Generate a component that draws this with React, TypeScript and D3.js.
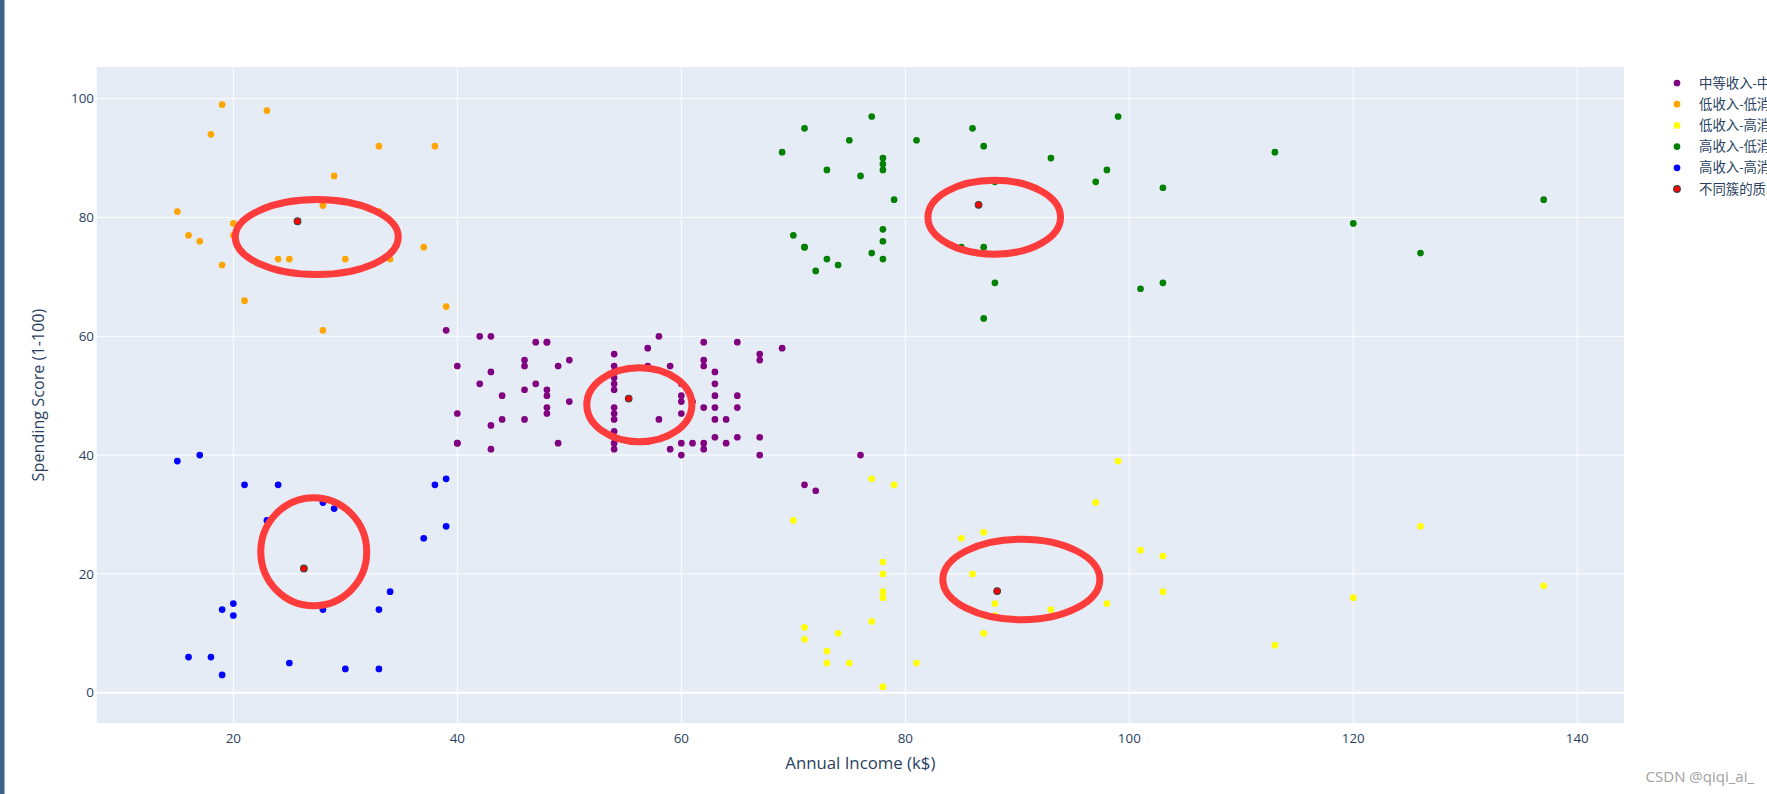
import React from "react";
import * as d3 from "d3";

// ---- data (Annual Income k$, Spending Score) per cluster ----
const midIncome = [39,40,40,40,40,42,42,43,43,43,43,44,44,46,46,46,46,47,47,48,48,48,48,48,48,49,49,50,50,54,54,54,54,54,54,54,54,54,54,54,54,57,57,58,58,59,59,60,60,60,60,60,60,61,61,62,62,62,62,62,62,63,63,63,63,63,63,64,64,65,65,65,65,67,67,67,67,69,71,72,76];
const midScore  = [61,55,47,42,42,52,60,54,60,45,41,50,46,51,46,56,55,52,59,51,59,50,48,59,47,55,42,49,56,47,54,53,48,52,42,51,55,41,44,57,46,58,55,60,46,55,41,49,40,42,52,47,50,42,49,41,48,59,55,56,42,50,46,43,48,52,54,42,46,48,50,43,59,43,57,56,40,58,35,34,40];

const lowHighIncome = [15,16,17,18,19,19,20,20,21,23,24,25,28,28,29,30,33,33,34,37,38,39];
const lowHighScore  = [81,77,76,94,72,99,77,79,66,98,73,73,82,61,87,73,92,81,73,75,92,65];

const highLowIncome = [70,71,71,73,73,74,75,77,77,78,78,78,78,78,78,79,81,85,86,87,87,87,88,88,93,97,98,99,101,103,103,113,120,126,137];
const highLowScore  = [29,11,9,5,7,10,5,12,36,22,17,20,16,1,1,35,5,26,20,27,13,10,13,15,14,32,15,39,24,17,23,8,16,28,18];

const highHighIncome = [69,70,71,71,71,72,73,73,74,75,76,77,77,78,78,78,78,78,78,79,81,85,86,87,87,87,88,88,93,97,98,99,101,103,103,113,120,126,137];
const highHighScore  = [91,77,95,75,75,71,88,73,72,93,87,97,74,90,88,76,89,78,73,83,93,75,95,63,75,92,86,69,90,86,88,97,68,85,69,91,79,74,83];

const lowLowIncome = [15,16,17,18,19,19,20,20,21,23,24,25,28,28,29,30,33,33,34,37,38,39,39];
const lowLowScore  = [39,6,40,6,3,14,15,13,35,29,35,5,14,32,31,4,4,14,17,26,35,36,28];

const centroidIncome = [55.30, 25.73, 88.20, 86.54, 26.30];
const centroidScore  = [49.52, 79.36, 17.11, 82.13, 20.91];

const seriesNames = ["中等收入-中等消费", "低收入-低消费", "低收入-高消费", "高收入-低消费", "高收入-高消费", "不同簇的质心"];
const seriesColors = ["purple", "orange", "yellow", "green", "blue", "red"];

const xTicks = [20, 40, 60, 80, 100, 120, 140];
const yTicks = [0, 20, 40, 60, 80, 100];

// hand-drawn highlight ellipses (data units): cx, cy, rx, ry
const ringX  = [27.45, 27.18, 56.25, 87.94, 90.36];
const ringY  = [76.7, 23.72, 48.48, 80.05, 19.06];
const ringRX = [7.28, 4.73, 4.69, 5.92, 7.01];
const ringRY = [6.31, 9.09, 6.23, 6.23, 6.78];

const W = 1767, H = 794;
const M = { left: 96.7, right: 1624, top: 67, bottom: 723 };
const FONT = "'Open Sans', 'Noto Sans CJK SC', sans-serif";
const INK = "#2a3f5f";

export default function App() {
  const x = d3.scaleLinear().domain([7.8, 144.17]).range([M.left, M.right]);
  const y = d3.scaleLinear().domain([-5.1, 105.33]).range([M.bottom, M.top]);

  const groups = [
    [midIncome, midScore],
    [lowHighIncome, lowHighScore],
    [highLowIncome, highLowScore],
    [highHighIncome, highHighScore],
    [lowLowIncome, lowLowScore],
  ];
  const r = 3.35;

  return (
    <svg width={W} height={H} style={{ position: "fixed", left: 0, top: 0, background: "#fff" }} fontFamily={FONT}>
      <rect x={0} y={0} width={W} height={H} fill="#fff" />
      <rect x={0} y={0} width={4.5} height={H} fill="#3d6188" />
      <rect x={M.left} y={M.top} width={M.right - M.left} height={M.bottom - M.top} fill="#E5ECF6" />
      {xTicks.map((t) => (
        <line key={"gx" + t} x1={x(t)} x2={x(t)} y1={M.top} y2={M.bottom} stroke="#fff" strokeWidth={1} />
      ))}
      {yTicks.map((t) => (
        <line key={"gy" + t} x1={M.left} x2={M.right} y1={y(t)} y2={y(t)} stroke="#fff" strokeWidth={t === 0 ? 2 : 1} />
      ))}
      {xTicks.map((t) => (
        <text key={"tx" + t} x={x(t)} y={M.bottom + 20} textAnchor="middle" fontSize={13.4} fill={INK}>{t}</text>
      ))}
      {yTicks.map((t) => (
        <text key={"ty" + t} x={94} y={y(t)} dy="0.35em" textAnchor="end" fontSize={13.4} fill={INK}>{t}</text>
      ))}
      <text x={(M.left + M.right) / 2} y={769} textAnchor="middle" fontSize={16.8} fill={INK}>Annual Income (k$)</text>
      <text transform={`translate(38.5, ${(M.top + M.bottom) / 2}) rotate(-90)`} textAnchor="middle" dy="0.35em" fontSize={16.2} fill={INK}>Spending Score (1-100)</text>

      {groups.map(([xs, ys], gi) => (
        <g key={"s" + gi} fill={seriesColors[gi]}>
          {xs.map((v, i) => (
            <circle key={i} cx={x(v)} cy={y(ys[i])} r={r} />
          ))}
        </g>
      ))}
      <g fill="red" stroke="#444" strokeWidth={1.1}>
        {centroidIncome.map((v, i) => (
          <circle key={i} cx={x(v)} cy={y(centroidScore[i])} r={r} />
        ))}
      </g>

      <g fill="none" stroke="#ff3c3c" strokeWidth={7}>
        {ringX.map((v, i) => {
          const cx = x(v), cy = y(ringY[i]);
          const rx = x(v + ringRX[i]) - cx, ry = cy - y(ringY[i] + ringRY[i]);
          return <ellipse key={i} cx={cx} cy={cy} rx={rx} ry={ry} />;
        })}
      </g>

      <g>
        {seriesNames.map((name, i) => {
          const cy = 83 + i * 21.2;
          return (
            <g key={name}>
              <circle cx={1677} cy={cy} r={r} fill={seriesColors[i]} stroke={i === 5 ? "#444" : "none"} strokeWidth={1.1} />
              <text x={1699} y={cy} dy="0.35em" fontSize={13.4} fill={INK}>{name}</text>
            </g>
          );
        })}
      </g>

      <text x={1754} y={782} textAnchor="end" fontSize={15} fill="#a0a0a0">CSDN @qiqi_ai_</text>
    </svg>
  );
}
